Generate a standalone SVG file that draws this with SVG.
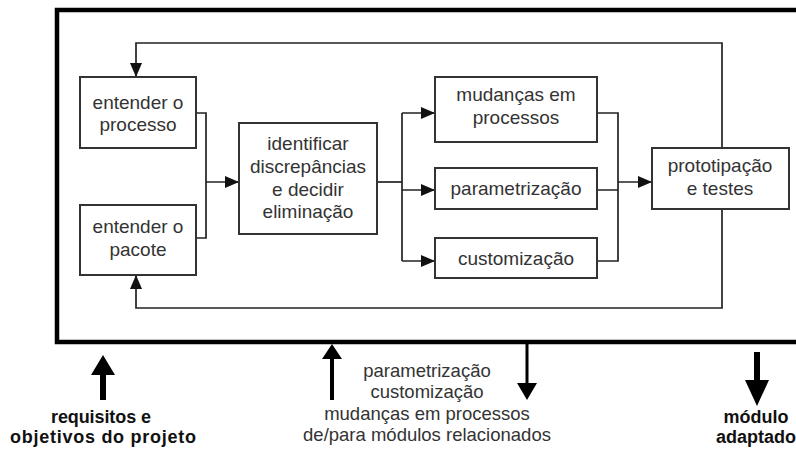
<svg xmlns="http://www.w3.org/2000/svg" width="796" height="450" viewBox="0 0 796 450">
<defs>
<marker id="ah" viewBox="0 0 14 12" refX="14" refY="6" markerWidth="14" markerHeight="12" markerUnits="userSpaceOnUse" orient="auto">
<path d="M0,0 L14,6 L0,12 Z" fill="#111"/>
</marker>
</defs>
<style>
.box{fill:#fff;stroke:#333;stroke-width:2}
.t{font-family:"Liberation Sans",Arial,sans-serif;font-size:19px;fill:#333;text-anchor:middle}
.m{font-family:"Liberation Sans",Arial,sans-serif;font-size:18.5px;fill:#333;text-anchor:middle}
.b{font-family:"Liberation Sans",Arial,sans-serif;font-size:18px;font-weight:bold;fill:#111;text-anchor:middle}
.c{fill:none;stroke:#222;stroke-width:1.7}
.ca{fill:none;stroke:#222;stroke-width:1.7;marker-end:url(#ah)}
</style>
<rect width="796" height="450" fill="#fff"/>
<rect x="57" y="10" width="770" height="332" fill="none" stroke="#000" stroke-width="4.5"/>

<g id="connectors">
<path class="ca" d="M722,148 V43 H136 V77"/>
<path class="ca" d="M722,209 V308 H136 V275"/>
<path class="c" d="M196,113 H206 V238 H196"/>
<path class="ca" d="M206,182 H239"/>
<path class="c" d="M377,182 H402"/>
<path class="ca" d="M402,113 V261 M402,113 H435"/>
<path class="ca" d="M402,190 H435"/>
<path class="ca" d="M402,261 H435"/>
<path class="c" d="M597,113 H618 V261 H597 M597,190 H618"/>
<path class="ca" d="M618,182 H652"/>
</g>

<g id="n_processo">
<rect class="box" x="80" y="77" width="116" height="71"/>
<text class="t" x="138" y="109">entender o</text>
<text class="t" x="138" y="131">processo</text>
</g>
<g id="n_pacote">
<rect class="box" x="80" y="205" width="116" height="70"/>
<text class="t" x="138" y="233">entender o</text>
<text class="t" x="138" y="256">pacote</text>
</g>
<g id="n_identificar">
<rect class="box" x="239" y="123" width="138" height="111"/>
<text class="t" x="308" y="150">identificar</text>
<text class="t" x="308" y="173">discrepâncias</text>
<text class="t" x="308" y="196">e decidir</text>
<text class="t" x="308" y="218">eliminação</text>
</g>
<g id="n_mudancas">
<rect class="box" x="435" y="77" width="162" height="65"/>
<text class="t" x="516" y="101">mudanças em</text>
<text class="t" x="516" y="124">processos</text>
</g>
<g id="n_param">
<rect class="box" x="435" y="168" width="162" height="41"/>
<text class="t" x="516" y="195">parametrização</text>
</g>
<g id="n_custom">
<rect class="box" x="435" y="238" width="162" height="40"/>
<text class="t" x="516" y="265">customização</text>
</g>
<g id="n_proto">
<rect class="box" x="652" y="148" width="137" height="61"/>
<text class="t" x="720" y="172">prototipação</text>
<text class="t" x="720" y="195">e testes</text>
</g>

<g id="io_requisitos">
<path d="M100,400 V375 H91 L103,355 L115,375 H106 V400 Z" fill="#000"/>
<text class="b" x="101" y="423" textLength="100" lengthAdjust="spacing">requisitos e</text>
<text class="b" x="103" y="443" textLength="186" lengthAdjust="spacing">objetivos do projeto</text>
</g>
<g id="io_mecanismos">
<path d="M330,400 V359 H322 L332,344 L342,359 H334 V400 Z" fill="#000"/>
<path d="M525.5,344 V383 H517 L527,400 L537,383 H528.5 V344 Z" fill="#000"/>
<text class="m" x="427" y="377">parametrização</text>
<text class="m" x="427" y="398">customização</text>
<text class="m" x="427" y="420">mudanças em processos</text>
<text class="m" x="427" y="441">de/para módulos relacionados</text>
</g>
<g id="io_modulo">
<path d="M754,352 V380 H745 L757,406 L769,380 H760 V352 Z" fill="#000"/>
<text class="b" x="756" y="423">módulo</text>
<text class="b" x="756" y="443">adaptado</text>
</g>
</svg>
